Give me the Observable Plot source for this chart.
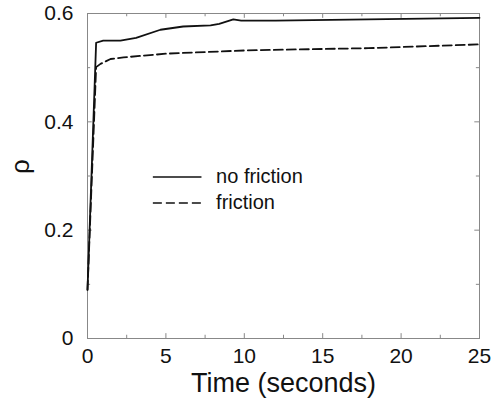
<!DOCTYPE html>
<html>
<head>
<meta charset="utf-8">
<script src="https://cdn.jsdelivr.net/npm/d3@7"></script>
<script src="https://cdn.jsdelivr.net/npm/@observablehq/plot@0.6"></script>
<style>
  html, body { margin: 0; padding: 0; background: #fff; }
  #chart svg { display: block; }
</style>
</head>
<body>
<div id="chart"></div>
<script>
// Series: no friction
const tNoFriction = [0, 0.55, 1.0, 2.1, 3.1, 4.65, 6.1, 7.85, 8.4, 9.3, 9.8, 12, 17.9, 25];
const rhoNoFriction = [0.09, 0.546, 0.55, 0.55, 0.555, 0.57, 0.576, 0.578, 0.581, 0.589, 0.587, 0.587, 0.589, 0.592];
// Series: friction
const tFriction = [0, 0.55, 0.83, 1.47, 2.3, 5.1, 10.2, 17.9, 25];
const rhoFriction = [0.09, 0.501, 0.507, 0.516, 0.519, 0.526, 0.532, 0.536, 0.543];

// Ticks
const xTicks = [0, 5, 10, 15, 20, 25];
const xMinor = [2.5, 7.5, 12.5, 17.5, 22.5];
const yTicks = [0, 0.2, 0.4, 0.6];
const yMinor = [0.1, 0.3, 0.5];
const yTickLabels = ["0", "0.2", "0.4", "0.6"];

// Legend entries
const legendLabels = ["no friction", "friction"];
const legendDash = [null, "9,4"];
const legendY = [0.298, 0.250];
const legendX = [4.2, 7.3, 8.2];

const noFric = tNoFriction.map((t, i) => ({t, rho: rhoNoFriction[i]}));
const fric = tFriction.map((t, i) => ({t, rho: rhoFriction[i]}));
const legend = legendLabels.map((label, i) => ({label, dash: legendDash[i], y: legendY[i]}));

const FONT = "Liberation Sans, Arial, Helvetica, sans-serif";
const gray = "#888";
const ink = "#111";

const chart = Plot.plot({
  width: 492,
  height: 399,
  marginLeft: 87,
  marginRight: 13,
  marginTop: 13,
  marginBottom: 61,
  style: {fontFamily: FONT, background: "#fff", color: ink},
  x: {domain: [0, 25]},
  y: {domain: [0, 0.6]},
  marks: [
    Plot.frame({stroke: gray, strokeWidth: 1}),
    // inward ticks (bottom/top)
    Plot.ruleX(xTicks, {y1: 0, y2: 0.009, stroke: gray}),
    Plot.ruleX(xTicks, {y1: 0.6, y2: 0.591, stroke: gray}),
    Plot.ruleX(xMinor, {y1: 0, y2: 0.006, stroke: gray}),
    Plot.ruleX(xMinor, {y1: 0.6, y2: 0.594, stroke: gray}),
    // inward ticks (left/right)
    Plot.ruleY(yTicks, {x1: 0, x2: 0.3, stroke: gray}),
    Plot.ruleY(yTicks, {x1: 25, x2: 24.7, stroke: gray}),
    Plot.ruleY(yMinor, {x1: 0, x2: 0.2, stroke: gray}),
    Plot.ruleY(yMinor, {x1: 25, x2: 24.8, stroke: gray}),
    Plot.axisX({ticks: xTicks, tickSize: 0, tickPadding: 10, fontSize: 21, label: null, tickFormat: d => String(d)}),
    Plot.axisY({ticks: yTicks, tickSize: 0, tickPadding: 14, fontSize: 21, label: null, tickFormat: (d, i) => yTickLabels[i]}),
    // data lines
    Plot.line(noFric, {x: "t", y: "rho", stroke: ink, strokeWidth: 1.8}),
    Plot.line(fric, {x: "t", y: "rho", stroke: ink, strokeWidth: 1.8, strokeDasharray: "9,4"}),
    // legend
    Plot.ruleY(legend.filter(d => !d.dash), {y: "y", x1: legendX[0], x2: legendX[1], stroke: ink, strokeWidth: 1.5}),
    Plot.ruleY(legend.filter(d => d.dash), {y: "y", x1: legendX[0], x2: legendX[1], stroke: ink, strokeWidth: 1.5, strokeDasharray: "9,4"}),
    Plot.text(legend, {x: legendX[2], y: "y", text: "label", textAnchor: "start", fontSize: 20, fill: ink}),
    // axis titles
    Plot.text(["Time (seconds)"], {frameAnchor: "bottom", lineAnchor: "bottom", dy: 53, fontSize: 27, fill: ink}),
    Plot.text(["ρ"], {frameAnchor: "left", rotate: -90, dx: -67, dy: -2, fontSize: 26, fill: ink})
  ]
});
document.getElementById("chart").appendChild(chart);
</script>
</body>
</html>
